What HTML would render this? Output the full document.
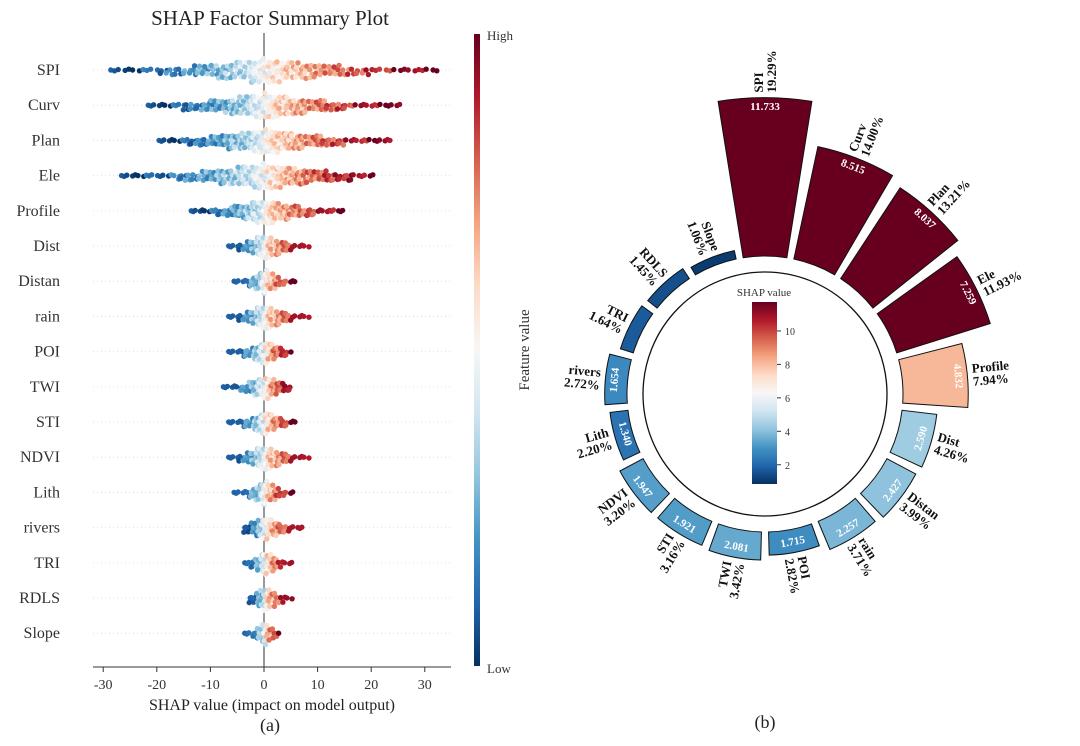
<!DOCTYPE html>
<html><head><meta charset="utf-8"><style>
body{margin:0;background:#fff;}
svg{display:block;font-family:"Liberation Serif",serif;}
</style></head><body>
<svg id="s" width="1080" height="746" viewBox="0 0 1080 746">
<defs>
<linearGradient id="cbL" x1="0" y1="1" x2="0" y2="0">
<stop offset="0" stop-color="#053061"/><stop offset=".1" stop-color="#2166ac"/><stop offset=".2" stop-color="#4393c3"/><stop offset=".3" stop-color="#92c5de"/><stop offset=".4" stop-color="#d1e5f0"/><stop offset=".5" stop-color="#f7f7f7"/><stop offset=".6" stop-color="#fddbc7"/><stop offset=".7" stop-color="#f4a582"/><stop offset=".8" stop-color="#d6604d"/><stop offset=".9" stop-color="#b2182b"/><stop offset="1" stop-color="#67001f"/>
</linearGradient>
</defs>
<g id="left"></g>
<g id="right"></g>
</svg>
<script>
// ---- Left chart data ----
const features = ["SPI","Curv","Plan","Ele","Profile","Dist","Distan","rain","POI","TWI","STI","NDVI","Lith","rivers","TRI","RDLS","Slope"];
const shapMin = [-29,-22,-20,-27,-14,-7,-6,-7,-7,-8,-7,-7,-6,-4,-4,-3,-4];
const shapMax = [32,25,24,20,15,8,6,8,5,5,6,8,5,7,5,5,3];
const xTicks = [-30,-20,-10,0,10,20,30];
// ---- Right chart data ----
const barNames = ["SPI","Curv","Plan","Ele","Profile","Dist","Distan","rain","POI","TWI","STI","NDVI","Lith","rivers","TRI","RDLS","Slope"];
const barValues = [11.733,8.515,8.037,7.259,4.832,2.590,2.427,2.257,1.715,2.081,1.921,1.947,1.340,1.654,1.0,0.88,0.64];
const barPct = ["19.29%","14.00%","13.21%","11.93%","7.94%","4.26%","3.99%","3.71%","2.82%","3.42%","3.16%","3.20%","2.20%","2.72%","1.64%","1.45%","1.06%"];
const barShowValue = [1,1,1,1,1,1,1,1,1,1,1,1,1,1,0,0,0];
const cbTicks = [2,4,6,8,10];

const NS="http://www.w3.org/2000/svg";
function mk(p,t,a,txt){const e=document.createElementNS(NS,t);for(const k in a)e.setAttribute(k,a[k]);if(txt!==undefined)e.textContent=txt;p.appendChild(e);return e;}
const stops=[[5,48,97],[33,102,172],[67,147,195],[146,197,222],[209,229,240],[247,247,247],[253,219,199],[244,165,130],[214,96,77],[178,24,43],[103,0,31]];
function cmap(t){t=Math.max(0,Math.min(1,t))*10;const i=Math.min(9,Math.floor(t)),f=t-i;const a=stops[i],b=stops[i+1];return `rgb(${a.map((v,k)=>Math.round(v+(b[k]-v)*f)).join(',')})`;}

// ===== Left =====
const L=document.getElementById('left');
const xS=v=>264+v*5.36;
const yS=i=>70+i*35.2;
mk(L,'text',{x:270,y:25,'font-size':21,'text-anchor':'middle',fill:'#222'},'SHAP Factor Summary Plot');
features.forEach((f,i)=>{
  const g=mk(L,'line',{x1:93,x2:451,y1:yS(i),y2:yS(i),stroke:'#ddd','stroke-dasharray':'1,3','stroke-width':1});
  
  const t=mk(L,'text',{x:60,y:yS(i)+5,'font-size':16,'text-anchor':'end',fill:'#333'},f);
  
});
const zl=mk(L,'line',{x1:264,x2:264,y1:33,y2:667,stroke:'#999','stroke-width':2});

features.forEach((f,i)=>{
  const lo=shapMin[i],hi=shapMax[i],step=Math.max(0.55,(hi-lo)/70);
  const g=mk(L,'g',{});
  let k=0;
  for(let v=lo;v<=hi;v+=step){
    const d=Math.abs(v)/Math.max(-lo,hi);
    const n=Math.max(1,Math.round(6*(1-d)*(1-d)+0.6));
    for(let j=0;j<n;j++){
      k++;
      const off=(j%2?1:-1)*Math.ceil(j/2)*3.8+(((k*7)%5)-2)*0.4;
      const jx=((k*37)%10)/10*0.6;
      const t=v<0?0.5*(1-Math.pow(-v/(-lo),0.7)):0.5+0.5*Math.pow(v/hi,0.7);
      const c=mk(g,'circle',{cx:xS(v+jx),cy:yS(i)+off,r:2.7,fill:cmap(t+(((k*13)%7)-3)*0.03)});
      
    }
  }
});
mk(L,'line',{x1:93,x2:451,y1:667,y2:667,stroke:'#333','stroke-width':1});
xTicks.forEach(v=>{
  mk(L,'line',{x1:xS(v),x2:xS(v),y1:667,y2:672,stroke:'#333'});
  const t=mk(L,'text',{x:xS(v),y:689,'font-size':14,'text-anchor':'middle',fill:'#333'},v);
  
});
mk(L,'text',{x:272,y:710,'font-size':16,'text-anchor':'middle',fill:'#222'},'SHAP value (impact on model output)');
mk(L,'text',{x:270,y:731,'font-size':18,'text-anchor':'middle',fill:'#222'},'(a)');
mk(L,'rect',{x:474,y:34,width:6,height:632,fill:'url(#cbL)'});
mk(L,'text',{x:487,y:40,'font-size':13,fill:'#333'},'High');
mk(L,'text',{x:487,y:673,'font-size':13,fill:'#333'},'Low');
mk(L,'text',{x:0,y:0,'font-size':15,'text-anchor':'middle',fill:'#333',transform:'translate(529,350) rotate(-90)'},'Feature value');

// ===== Right =====
const R=document.getElementById('right');
const cx=765,cy=394,r0=138,scale=13.5;
const cmin=0.5,cmax=7.0;   // colour normalisation of bars
const vmin=0.85,vmax=11.73; // colorbar range
const stepA=360/barNames.length,startA=0,halfW=stepA*0.43;
mk(R,'circle',{cx,cy,r:122,fill:'none',stroke:'#111','stroke-width':1.3});
const pt=(a,r)=>{const t=a*Math.PI/180;return [cx+r*Math.sin(t),cy-r*Math.cos(t)];};
barNames.forEach((n,i)=>{
  const a=startA+i*stepA, v=barValues[i], r1=r0+v*scale;
  const [x1,y1]=pt(a-halfW,r0),[x2,y2]=pt(a+halfW,r0),[x3,y3]=pt(a+halfW,r1),[x4,y4]=pt(a-halfW,r1);
  const p=mk(R,'path',{d:`M${x1},${y1} A${r0},${r0} 0 0 1 ${x2},${y2} L${x3},${y3} A${r1},${r1} 0 0 0 ${x4},${y4} Z`,fill:cmap((v-cmin)/(cmax-cmin)),stroke:'#111','stroke-width':1});
  
  const an=((a%360)+360)%360;
  if(barShowValue[i]){
    const [vx,vy]=pt(a,r1-10);
    let rot=an; if(an>90&&an<270) rot=an-180;
    const t=mk(R,'text',{x:0,y:0,'font-size':11,'font-weight':'bold','text-anchor':'middle','dominant-baseline':'middle',fill:'#fff',transform:`translate(${vx},${vy}) rotate(${rot})`},v.toFixed(3));
    
  }
  const [lx,ly]=pt(a,r1+5);
  const right=an<180;
  const rot=right?an-90:an-270;
  const g=mk(R,'text',{x:0,y:0,'font-size':13,'font-weight':'bold','text-anchor':right?'start':'end',fill:'#111',transform:`translate(${lx},${ly}) rotate(${rot})`});
  
  mk(g,'tspan',{x:0,dy:-2},n);
  mk(g,'tspan',{x:0,dy:13},barPct[i]);
});
const cbTop=302,cbBot=484;
const cbY=v=>cbBot-(v-vmin)/(vmax-vmin)*(cbBot-cbTop);
mk(R,'text',{x:764,y:296,'font-size':11,'text-anchor':'middle',fill:'#333'},'SHAP value');
mk(R,'rect',{x:752,y:cbTop,width:25,height:cbBot-cbTop,fill:'url(#cbL)'});
cbTicks.forEach(v=>{
  mk(R,'line',{x1:777,x2:781,y1:cbY(v),y2:cbY(v),stroke:'#333'});
  const t=mk(R,'text',{x:785,y:cbY(v)+4,'font-size':10,fill:'#333'},v);
  
});
mk(R,'text',{x:765,y:728,'font-size':18,'text-anchor':'middle',fill:'#222'},'(b)');
</script>
</body></html>
